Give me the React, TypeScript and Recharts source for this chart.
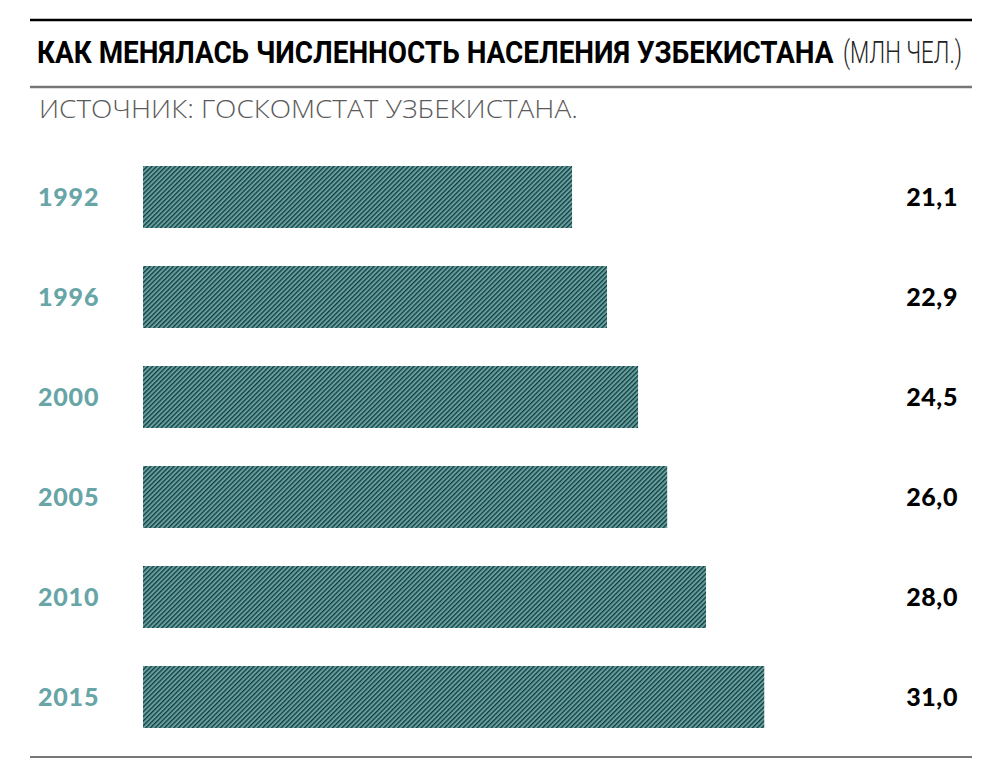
import React, { useLayoutEffect, useRef, useState } from "react";
import { BarChart, Bar, XAxis, YAxis } from "recharts";

const years = ["1992", "1996", "2000", "2005", "2010", "2015"];
const population = [21.1, 22.9, 24.5, 26.0, 28.0, 31.0];
const valueLabels = ["21,1", "22,9", "24,5", "26,0", "28,0", "31,0"];

const TITLE = "КАК МЕНЯЛАСЬ ЧИСЛЕННОСТЬ НАСЕЛЕНИЯ УЗБЕКИСТАНА";
const UNIT = "(МЛН ЧЕЛ.)";
const SOURCE = "ИСТОЧНИК: ГОСКОМСТАТ УЗБЕКИСТАНА.";

const AXIS_MIN = -1;
const AXIS_MAX = 40;
const BAR_BASE = -1;

const data = years.map((y, i) => ({
  year: y,
  value: population[i],
  label: valueLabels[i],
}));

const TEAL = "#68a5a7";

const FitText = (props: any) => {
  const { x, y, target, children, ...rest } = props;
  const ref = useRef<SVGTextElement>(null);
  const [s, setS] = useState(1);
  useLayoutEffect(() => {
    if (ref.current) {
      const w = ref.current.getComputedTextLength();
      if (w > 0) setS(target / w);
    }
  }, [target]);
  return (
    <text
      ref={ref}
      x={0}
      y={0}
      transform={`translate(${x},${y}) scale(${s},1)`}
      {...rest}
    >
      {children}
    </text>
  );
};

const LeftTick = (props: any) => {
  const { y, payload } = props;
  return (
    <text
      x={38}
      y={y + 9}
      fill={TEAL}
      fontFamily="Lato, 'DejaVu Sans', sans-serif"
      fontWeight={900}
      fontSize={25}
      letterSpacing={0.8}
      textAnchor="start"
    >
      {payload.value}
    </text>
  );
};

const RightTick = (props: any) => {
  const { y, payload } = props;
  return (
    <text
      x={958}
      y={y + 9}
      fill="#000"
      fontFamily="Lato, 'DejaVu Sans', sans-serif"
      fontWeight={900}
      fontSize={25}
      letterSpacing={0.6}
      textAnchor="end"
    >
      {payload.value}
    </text>
  );
};

export default function App() {
  return (
    <div
      style={{
        position: "fixed",
        left: 0,
        top: 0,
        width: 1000,
        height: 779,
        background: "#fff",
        overflow: "hidden",
      }}
    >
      <svg
        width={1000}
        height={779}
        style={{ position: "absolute", left: 0, top: 0 }}
      >
        <defs>
          <pattern
            id="hatch"
            patternUnits="userSpaceOnUse"
            width={3.3}
            height={3.3}
            patternTransform="rotate(45)"
          >
            <rect x={0} y={0} width={3.3} height={3.3} fill="#64a1a1" />
            <rect x={0} y={0} width={1.3} height={3.3} fill="#173b3d" />
          </pattern>
        </defs>
        <line x1={30} x2={972} y1={20} y2={20} stroke="#000" strokeWidth={2.5} />
        <FitText
          x={37}
          y={63}
          target={797}
          fontFamily="Roboto, 'DejaVu Sans', sans-serif"
          fontWeight={700}
          fontSize={31}
          fill="#000"
        >
          {TITLE}
        </FitText>
        <FitText
          x={843}
          y={63}
          target={119}
          fontFamily="Roboto, 'DejaVu Sans', sans-serif"
          fontWeight={300}
          fontSize={31}
          fill="#222"
        >
          {UNIT}
        </FitText>
        <line x1={30} x2={972} y1={87} y2={87} stroke="#777" strokeWidth={2.5} />
        <FitText
          x={39}
          y={117.5}
          target={539}
          fontFamily="'Open Sans', Lato, sans-serif"
          fontWeight={300}
          fontSize={25.5}
          fill="#5a5a5a"
        >
          {SOURCE}
        </FitText>
        <line x1={30} x2={972} y1={757} y2={757} stroke="#777" strokeWidth={2} />
      </svg>
      <div style={{ position: "absolute", left: 0, top: 0 }}>
        <BarChart
          width={1000}
          height={779}
          data={data}
          layout="vertical"
          margin={{ top: 147, right: 0, bottom: 32, left: 0 }}
          barCategoryGap={38}
        >
          <XAxis type="number" domain={[AXIS_MIN, AXIS_MAX]} hide allowDataOverflow />
          <YAxis
            yAxisId="left"
            type="category"
            dataKey="year"
            width={143}
            axisLine={false}
            tickLine={false}
            tick={<LeftTick />}
            interval={0}
          />
          <YAxis
            yAxisId="right"
            orientation="right"
            type="category"
            dataKey="label"
            width={61}
            axisLine={false}
            tickLine={false}
            tick={<RightTick />}
            interval={0}
          />
          <Bar
            yAxisId="left"
            dataKey={(d: any) => [BAR_BASE, d.value]}
            fill="url(#hatch)"
            barSize={62}
            isAnimationActive={false}
          />
        </BarChart>
      </div>
    </div>
  );
}
